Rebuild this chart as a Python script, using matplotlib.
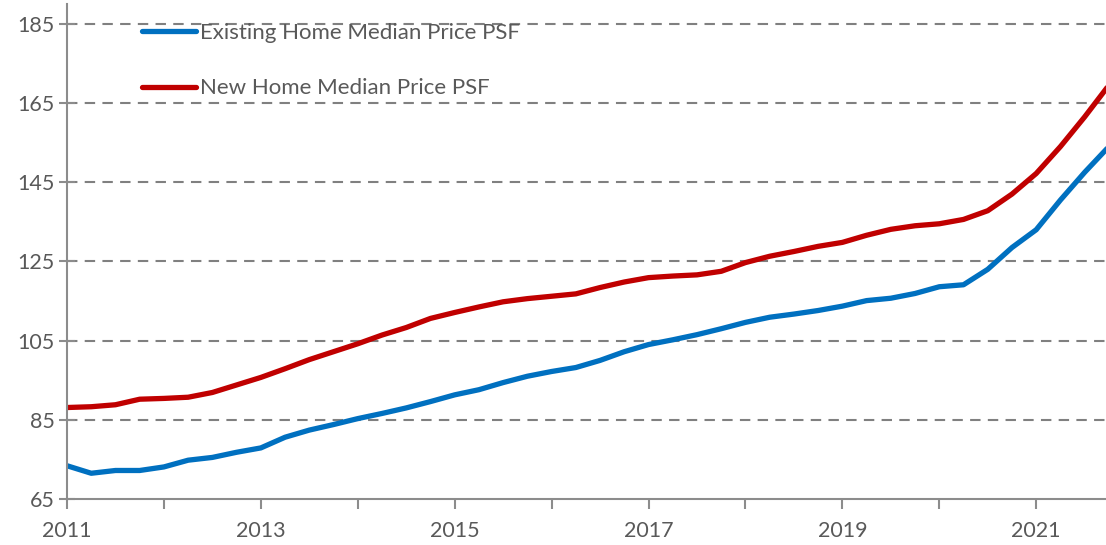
import numpy as np
import matplotlib
matplotlib.use("Agg")
import matplotlib.pyplot as plt

# quarterly readings, 2011 Q1 .. 2021 Q4 start
years = 2011 + 0.25 * np.arange(44)

existing_psf = [73.4, 71.5, 72.2, 72.2, 73.1, 74.8, 75.5, 76.8, 77.9, 80.6,
                82.4, 83.8, 85.3, 86.6, 88.0, 89.6, 91.3, 92.6, 94.4, 96.0,
                97.2, 98.2, 100.0, 102.2, 104.0, 105.2, 106.5, 108.0, 109.6, 110.9,
                111.7, 112.6, 113.7, 115.1, 115.7, 116.9, 118.6, 119.1, 123.0, 128.5,
                133.0, 140.5, 147.5, 154.0]

new_psf = [88.1, 88.3, 88.8, 90.2, 90.4, 90.7, 91.9, 93.8, 95.7, 97.9,
           100.2, 102.2, 104.2, 106.4, 108.3, 110.6, 112.1, 113.5, 114.8, 115.6,
           116.2, 116.8, 118.4, 119.8, 120.9, 121.3, 121.6, 122.5, 124.7, 126.3,
           127.5, 128.8, 129.8, 131.6, 133.1, 134.0, 134.5, 135.6, 137.8, 142.0,
           147.2, 154.0, 161.5, 169.5]

labels = ["Existing Home Median Price PSF", "New Home Median Price PSF"]
y_ticks = [65, 85, 105, 125, 145, 165, 185]
x_labelled = [2011, 2013, 2015, 2017, 2019, 2021]

plt.rcParams["font.family"] = ["Lato", "DejaVu Sans"]
gray_txt = "#595959"
axis_gray = "#8c8c8c"

fig = plt.figure(figsize=(11.06, 5.45), dpi=100)
ax = fig.add_axes([67 / 1106, 46 / 545, 1 - 67 / 1106, 495 / 545])

ax.plot(years[:len(existing_psf)], existing_psf, color="#0070C0", lw=3.8,
        solid_capstyle="round", solid_joinstyle="round", label=labels[0])
ax.plot(years[:len(new_psf)], new_psf, color="#C00000", lw=3.8,
        solid_capstyle="round", solid_joinstyle="round", label=labels[1])

ax.set_xlim(2011, 2021.72)
ax.set_ylim(65, 190)

ax.set_yticks(y_ticks)
ax.set_xticks(range(2011, 2022))
ax.set_xticklabels([str(y) if y in x_labelled else "" for y in range(2011, 2022)])

for v in y_ticks[1:]:
    ax.axhline(v, color="#808080", lw=1.5, ls=(0, (5, 3.5)), zorder=0)

for s in ["top", "right"]:
    ax.spines[s].set_visible(False)
for s in ["left", "bottom"]:
    ax.spines[s].set_color(axis_gray)
    ax.spines[s].set_linewidth(1.5)

ax.tick_params(axis="y", direction="inout", length=12, width=1.5, color=axis_gray,
               labelsize=15.5, labelcolor=gray_txt, pad=3)
ax.tick_params(axis="x", direction="out", length=7, width=1.5, color=axis_gray,
               labelsize=15.5, labelcolor=gray_txt, pad=9)

leg = ax.legend(loc="upper left", bbox_to_anchor=(0.0722, 0.962), frameon=False,
                fontsize=16, handlelength=2.45, handletextpad=0.18,
                labelspacing=1.6, borderaxespad=0, borderpad=0)
for t in leg.get_texts():
    t.set_color(gray_txt)

fig.savefig("out.png", dpi=100)
